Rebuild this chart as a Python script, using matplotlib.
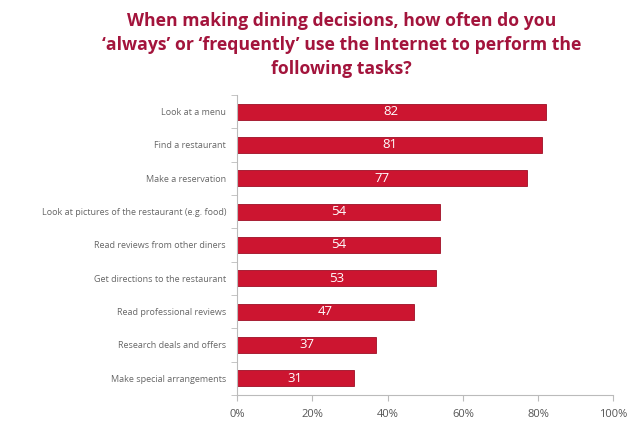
import matplotlib
matplotlib.use("Agg")
import matplotlib.pyplot as plt
import numpy as np

categories = ["Look at a menu", "Find a restaurant", "Make a reservation",
              "Look at pictures of the restaurant (e.g. food)",
              "Read reviews from other diners", "Get directions to the restaurant",
              "Read professional reviews", "Research deals and offers",
              "Make special arrangements"]
values = [82, 81, 77, 54, 54, 53, 47, 37, 31]
xticks = [0, 20, 40, 60, 80, 100]
xtick_labels = ["0%", "20%", "40%", "60%", "80%", "100%"]
title = ("When making dining decisions, how often do you\n"
         "\u2018always\u2019 or \u2018frequently\u2019 use the Internet to perform the\n"
         "following tasks?")

plt.rcParams['font.family'] = ['Open Sans', 'DejaVu Sans']

fig = plt.figure(figsize=(6.29, 4.22), dpi=100)
ax = fig.add_axes([0.377, 0.064, 0.598, 0.711])

y = np.arange(len(categories))
ax.barh(y, values, height=0.48, color="#CC1530", edgecolor="#9E0F25", linewidth=0.6)
for yi, v in zip(y, values):
    ax.text(v / 2, yi, str(v), ha="center", va="center", color="white", fontsize=9.5)

ax.set_ylim(len(categories) - 0.5, -0.5)
ax.set_xlim(0, 100)
ax.set_yticks(y)
ax.set_yticklabels(categories, fontsize=6.5, color="#666666")
ax.tick_params(axis="y", length=0, pad=8)
ax.set_yticks(np.arange(-0.5, len(categories), 1), minor=True)
ax.tick_params(axis="y", which="minor", length=4, color="#BBBBBB")
ax.set_xticks(xticks)
ax.set_xticklabels(xtick_labels, fontsize=8, color="#555555")
ax.tick_params(axis="x", length=4, color="#BBBBBB", pad=6)

for s in ["top", "right"]:
    ax.spines[s].set_visible(False)
for s in ["left", "bottom"]:
    ax.spines[s].set_color("#BBBBBB")
    ax.spines[s].set_linewidth(0.8)

fig.text(0.543, 0.972, title, ha="center", va="top", fontsize=12.7, fontweight="bold",
         color="#A3143C", linespacing=1.42)

fig.savefig("out.png", dpi=100)
